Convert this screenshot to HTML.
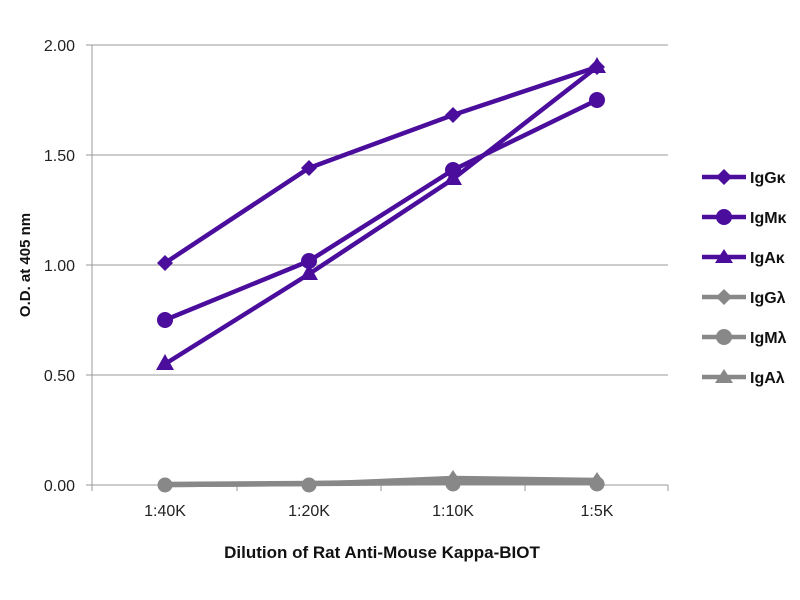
<!DOCTYPE html><html><head><style>body{margin:0;background:#fff}svg{display:block}text{font-family:"Liberation Sans",sans-serif}</style></head><body>
<svg width="800" height="600" viewBox="0 0 800 600">
<g stroke="#999" stroke-width="1">
<line x1="92" y1="45" x2="668" y2="45"/><line x1="92" y1="155" x2="668" y2="155"/><line x1="92" y1="265" x2="668" y2="265"/><line x1="92" y1="375" x2="668" y2="375"/>
<line x1="92" y1="45" x2="92" y2="485"/><line x1="86" y1="485" x2="668" y2="485"/>
<line x1="86" y1="45" x2="92" y2="45"/><line x1="86" y1="155" x2="92" y2="155"/><line x1="86" y1="265" x2="92" y2="265"/><line x1="86" y1="375" x2="92" y2="375"/>
<line x1="92" y1="485" x2="92" y2="491"/><line x1="237" y1="485" x2="237" y2="491"/><line x1="381" y1="485" x2="381" y2="491"/><line x1="525" y1="485" x2="525" y2="491"/><line x1="668" y1="485" x2="668" y2="491"/>
</g>
<g font-size="16" fill="#222" text-anchor="end">
<text x="75" y="51">2.00</text><text x="75" y="161">1.50</text><text x="75" y="271">1.00</text><text x="75" y="381">0.50</text><text x="75" y="491">0.00</text>
</g>
<g font-size="16" fill="#222" text-anchor="middle">
<text x="165" y="516">1:40K</text><text x="309" y="516">1:20K</text><text x="453" y="516">1:10K</text><text x="597" y="516">1:5K</text>
</g>
<text x="382" y="558" font-size="17" font-weight="bold" text-anchor="middle" fill="#111">Dilution of Rat Anti-Mouse Kappa-BIOT</text>
<text transform="translate(30,265) rotate(-90)" font-size="15" font-weight="bold" text-anchor="middle" fill="#111">O.D. at 405 nm</text>
<g fill="none" stroke-width="4.5" stroke-linejoin="round">
<polyline stroke="#888" points="165,485 309,484 453,478 597,480"/>
<polyline stroke="#888" points="165,485 309,484 453,483 597,483"/>
<polyline stroke="#888" points="165,484 309,483 453,481 597,481"/>
<polyline stroke="#4a0d9c" points="165,364 309,274 453,179 597,67"/>
<polyline stroke="#4a0d9c" points="165,320 309,261 453,170 597,100"/>
<polyline stroke="#4a0d9c" points="165,263 309,168 453,115 597,67"/>
</g>
<g fill="#888">
<circle cx="165" cy="485" r="7.5"/><circle cx="309" cy="485" r="7.5"/><circle cx="453" cy="484" r="7.5"/><circle cx="597" cy="484" r="7.5"/>
<path d="M453,470 l8,12 h-16z M597,472 l8,12 h-16z"/>
</g>
<g fill="#4a0d9c">
<path d="M165,255 l8,8 -8,8 -8,-8z M309,160 l8,8 -8,8 -8,-8z M453,107 l8,8 -8,8 -8,-8z M597,59 l8,8 -8,8 -8,-8z"/>
<circle cx="165" cy="320" r="8"/><circle cx="309" cy="261" r="8"/><circle cx="453" cy="170" r="8"/><circle cx="597" cy="100" r="8"/>
<path d="M165,354 l9,16 h-18z M309,264 l9,16 h-18z M453,169 l9,16 h-18z M597,57 l9,16 h-18z"/>
</g>
<g stroke-width="4.5">
<line x1="702" y1="177" x2="746" y2="177" stroke="#4a0d9c"/><line x1="702" y1="217" x2="746" y2="217" stroke="#4a0d9c"/><line x1="702" y1="257" x2="746" y2="257" stroke="#4a0d9c"/>
<line x1="702" y1="297" x2="746" y2="297" stroke="#888"/><line x1="702" y1="337" x2="746" y2="337" stroke="#888"/><line x1="702" y1="377" x2="746" y2="377" stroke="#888"/>
</g>
<path fill="#4a0d9c" d="M724,169 l8,8 -8,8 -8,-8z M724,249 l9,14 h-18z"/><circle cx="724" cy="217" r="8" fill="#4a0d9c"/>
<path fill="#888" d="M724,289 l8,8 -8,8 -8,-8z M724,369 l9,14 h-18z"/><circle cx="724" cy="337" r="8" fill="#888"/>
<g font-size="16" font-weight="bold" fill="#111">
<text x="750" y="183">IgGκ</text><text x="750" y="223">IgMκ</text><text x="750" y="263">IgAκ</text><text x="750" y="303">IgGλ</text><text x="750" y="343">IgMλ</text><text x="750" y="383">IgAλ</text>
</g>
</svg></body></html>
